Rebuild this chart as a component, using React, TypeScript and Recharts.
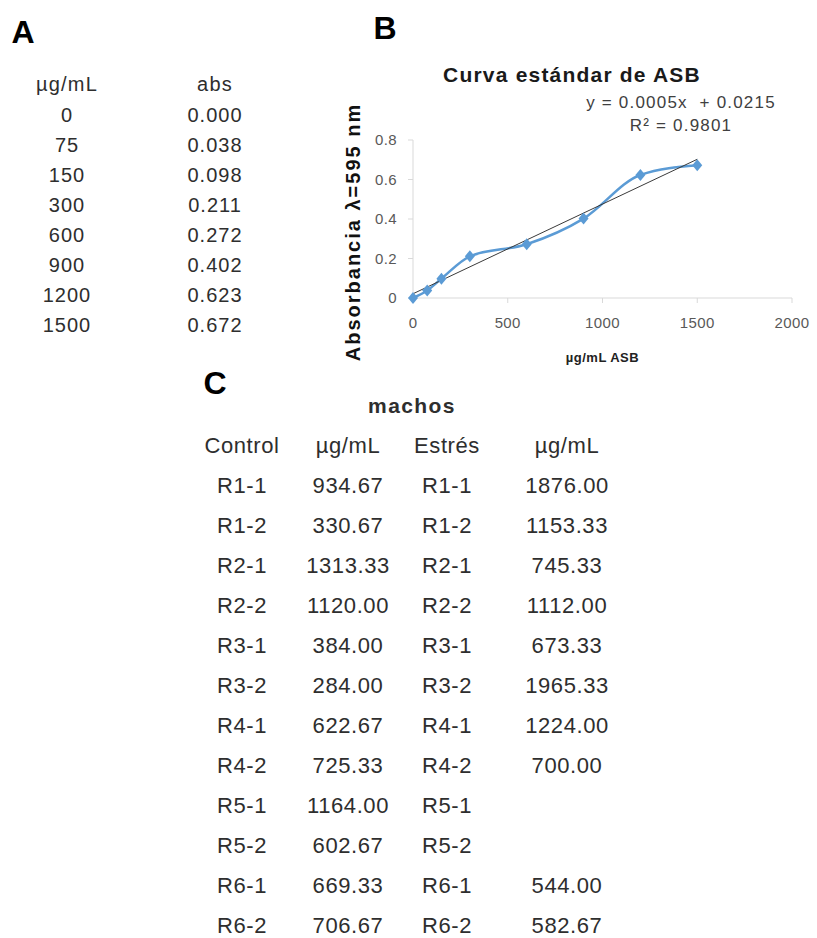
import { ComposedChart, Line, XAxis, YAxis, Label } from "recharts";

// standard curve (panel A / B)
const CONC = [0, 75, 150, 300, 600, 900, 1200, 1500];
const ABS = [0.0, 0.038, 0.098, 0.211, 0.272, 0.402, 0.623, 0.672];

// linear trendline endpoints (y = 0.0005x + 0.0215)
const TREND_X = [0, 1500];
const TREND_Y = [0.0215, 0.7025];

const X_TICKS = [0, 500, 1000, 1500, 2000];
const Y_TICKS = [0, 0.2, 0.4, 0.6, 0.8];

// panel C: machos
const REPLICATES = ["R1-1", "R1-2", "R2-1", "R2-2", "R3-1", "R3-2", "R4-1", "R4-2", "R5-1", "R5-2", "R6-1", "R6-2"];
const CONTROL = [934.67, 330.67, 1313.33, 1120.0, 384.0, 284.0, 622.67, 725.33, 1164.0, 602.67, 669.33, 706.67];
const STRESS: (number | null)[] = [1876.0, 1153.33, 745.33, 1112.0, 673.33, 1965.33, 1224.0, 700.0, null, null, 544.0, 582.67];

const FONT = '"Liberation Sans", Arial, sans-serif';
const BLUE = "#5B9BD5";
const TEXT = "#2e2e2e";

const T = ({ x, y, size, bold, spacing = 0, color = TEXT, children }: any) => (
  <div
    style={{
      position: "absolute",
      left: x,
      top: y,
      transform: "translate(-50%, -50%)",
      fontSize: size,
      fontWeight: bold ? 700 : 400,
      letterSpacing: spacing,
      color,
      lineHeight: 1,
      whiteSpace: "nowrap",
    }}
  >
    {children}
  </div>
);

const Diamond = (p: any) => {
  const { cx, cy, index } = p;
  if (cx == null || cy == null) return null;
  return (
    <polygon
      key={`dm-${index}`}
      points={`${cx},${cy - 6} ${cx + 5},${cy} ${cx},${cy + 6} ${cx - 5},${cy}`}
      fill={BLUE}
    />
  );
};

const StandardCurve = () => {
  const data = CONC.map((x, i) => ({ x, abs: ABS[i] }));
  const trend = TREND_X.map((x, i) => ({ x, fit: TREND_Y[i] }));
  const tick = { fill: "#595959", fontSize: 15, fontFamily: FONT, letterSpacing: 0.4 };

  return (
    <ComposedChart width={487} height={330} data={data} margin={{ top: 90, right: 25, bottom: 22, left: 0 }}>
      <XAxis
        type="number"
        dataKey="x"
        domain={[0, 2000]}
        ticks={X_TICKS}
        tick={tick}
        tickSize={5}
        tickMargin={14}
        axisLine={{ stroke: "#d9d9d9" }}
        tickLine={{ stroke: "#d9d9d9" }}
        height={60}
      >
        <Label
          content={(p: any) => {
            const vb = p.viewBox || {};
            return (
              <text
                x={vb.x + vb.width / 2}
                y={vb.y + 59}
                textAnchor="middle"
                dominantBaseline="central"
                fontFamily={FONT}
                fontWeight={700}
                fontSize={13}
                letterSpacing={0.5}
                fill="#222"
              >
                µg/mL ASB
              </text>
            );
          }}
        />
      </XAxis>
      <YAxis
        type="number"
        domain={[0, 0.8]}
        ticks={Y_TICKS}
        tick={tick}
        tickSize={5}
        tickMargin={11}
        axisLine={{ stroke: "#d9d9d9" }}
        tickLine={{ stroke: "#d9d9d9" }}
        width={83}
      >
        <Label
          content={(p: any) => {
            const vb = p.viewBox || {};
            const lx = vb.x + 23;
            const ly = vb.y + vb.height / 2 + 13;
            return (
              <text
                x={lx}
                y={ly}
                transform={`rotate(-90, ${lx}, ${ly})`}
                textAnchor="middle"
                dominantBaseline="central"
                fontFamily={FONT}
                fontWeight={700}
                fontSize={20}
                letterSpacing={2}
                fill="#111"
              >
                Absorbancia λ=595 nm
              </text>
            );
          }}
        />
      </YAxis>
      <Line
        dataKey="abs"
        type="monotone"
        stroke={BLUE}
        strokeWidth={2.5}
        dot={Diamond}
        activeDot={false}
        isAnimationActive={false}
      />
      <Line
        data={trend}
        dataKey="fit"
        type="linear"
        stroke="#3a3a3a"
        strokeWidth={1}
        dot={false}
        activeDot={false}
        isAnimationActive={false}
      />
    </ComposedChart>
  );
};

export default function App() {
  return (
    <div
      style={{
        position: "absolute",
        left: 0,
        top: 0,
        width: 817,
        height: 938,
        background: "#fff",
        fontFamily: FONT,
        overflow: "hidden",
      }}
    >
      {/* panel letters */}
      <T x={23} y={32} size={32} bold color="#000">A</T>
      <T x={385} y={28} size={32} bold color="#000">B</T>
      <T x={215} y={383} size={32} bold color="#000">C</T>

      {/* A: table */}
      <T x={67} y={84} size={20} spacing={1.2}>µg/mL</T>
      <T x={215} y={84} size={20} spacing={1.2}>abs</T>
      {CONC.map((c, i) => (
        <T key={`c${i}`} x={67} y={115 + i * 30} size={20} spacing={1}>
          {c}
        </T>
      ))}
      {ABS.map((a, i) => (
        <T key={`a${i}`} x={215} y={115 + i * 30} size={20} spacing={1}>
          {a.toFixed(3)}
        </T>
      ))}

      {/* B: chart */}
      <T x={572} y={74} size={21} bold spacing={1.2} color="#1a1a1a">Curva estándar de ASB</T>
      <T x={681} y={102} size={17} spacing={1.2} color="#404040">y = 0.0005x&nbsp;&nbsp;+ 0.0215</T>
      <T x={681} y={125} size={17} spacing={1.2} color="#404040">R² = 0.9801</T>
      <div style={{ position: "absolute", left: 330, top: 50 }}>
        <StandardCurve />
      </div>

      {/* C: table */}
      <T x={412} y={405} size={21} bold spacing={1.4}>machos</T>
      <T x={242} y={446} size={22} spacing={0.6}>Control</T>
      <T x={348} y={446} size={22} spacing={0.6}>µg/mL</T>
      <T x={447} y={446} size={22} spacing={0.6}>Estrés</T>
      <T x={567} y={446} size={22} spacing={0.6}>µg/mL</T>
      {REPLICATES.map((r, i) => {
        const y = 486 + i * 40;
        const s = STRESS[i];
        return (
          <div key={r}>
            <T x={242} y={y} size={22} spacing={0.6}>{r}</T>
            <T x={348} y={y} size={22} spacing={0.6}>{CONTROL[i].toFixed(2)}</T>
            <T x={447} y={y} size={22} spacing={0.6}>{r}</T>
            {s != null && (
              <T x={567} y={y} size={22} spacing={0.6}>{s.toFixed(2)}</T>
            )}
          </div>
        );
      })}
    </div>
  );
}
